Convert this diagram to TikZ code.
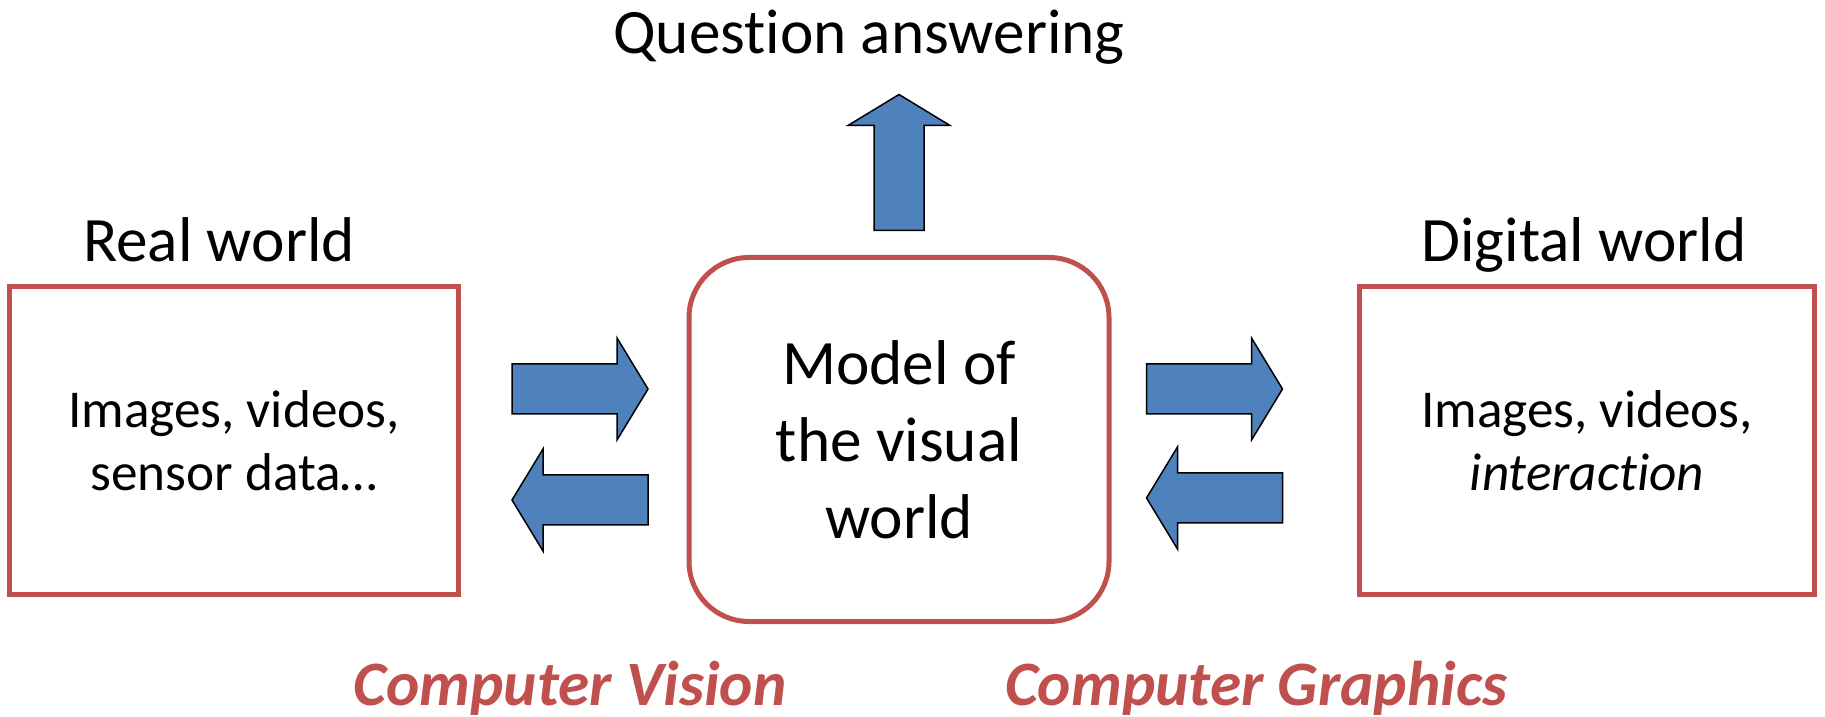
\documentclass[tikz,border=0pt]{standalone}
\usepackage{fontspec}
\setmainfont{Carlito}[Ligatures=NoCommon]
\definecolor{boxred}{HTML}{C0504D}
\definecolor{arrowblue}{HTML}{4F81BD}

\begin{document}
\begin{tikzpicture}[x=0.4pt,y=-0.4pt,
  panel/.style={draw=boxred, line width=2pt, fill=white, align=center, inner sep=0pt,
    font=\fontsize{21.3}{25.2}\selectfont},
  modelbox/.style={panel, rounded corners=24pt,
    font=\fontsize{25.3}{30.8}\selectfont},
  blockarrow/.style={fill=arrowblue, draw=black, line width=0.6pt, line join=miter},
  heading/.style={anchor=base, inner sep=0pt, font=\fontsize{25.3}{30}\selectfont},
  field/.style={anchor=base, inner sep=0pt, text=boxred,
    font=\fontsize{25.3}{30}\selectfont\bfseries\itshape},
  pics/bigarrow/.style={code={
    \path[blockarrow] (0,-25) -- (105,-25) -- (105,-51) -- (136,0)
      -- (105,51) -- (105,25) -- (0,25) -- cycle;}}
]
\useasboundingbox (0,0) rectangle (1825,717);

% three panels
\node[panel, minimum width=179.4pt, minimum height=123.2pt] (real) at (234,440.6)
  {Images, videos,\\ sensor data…};
\node[modelbox, minimum width=168pt, minimum height=145.6pt] (model) at (899,439.5)
  {Model of\\ the visual\\ world};
\node[panel, minimum width=182pt, minimum height=123.2pt] (digital) at (1587,440.6)
  {Images, videos,\\ \textit{interaction}};

% headings
\node[heading] (qa) at (869,54) {Question answering};
\node[heading] (realtitle) at (219,262) {Real world};
\node[heading] (digitaltitle) at (1584,262) {Digital world};

% block arrows
\pic at (512,389) {bigarrow};
\pic[xscale=-1] at (648,500) {bigarrow};
\pic at (1146.5,389) {bigarrow};
\pic[xscale=-1] at (1282.5,498) {bigarrow};
\pic[rotate=90] at (899,230.5) {bigarrow};

% field labels
\node[field] (cv) at (570,705) {Computer Vision};
\node[field] (cg) at (1256,705) {Computer Graphics};
\end{tikzpicture}
\end{document}
